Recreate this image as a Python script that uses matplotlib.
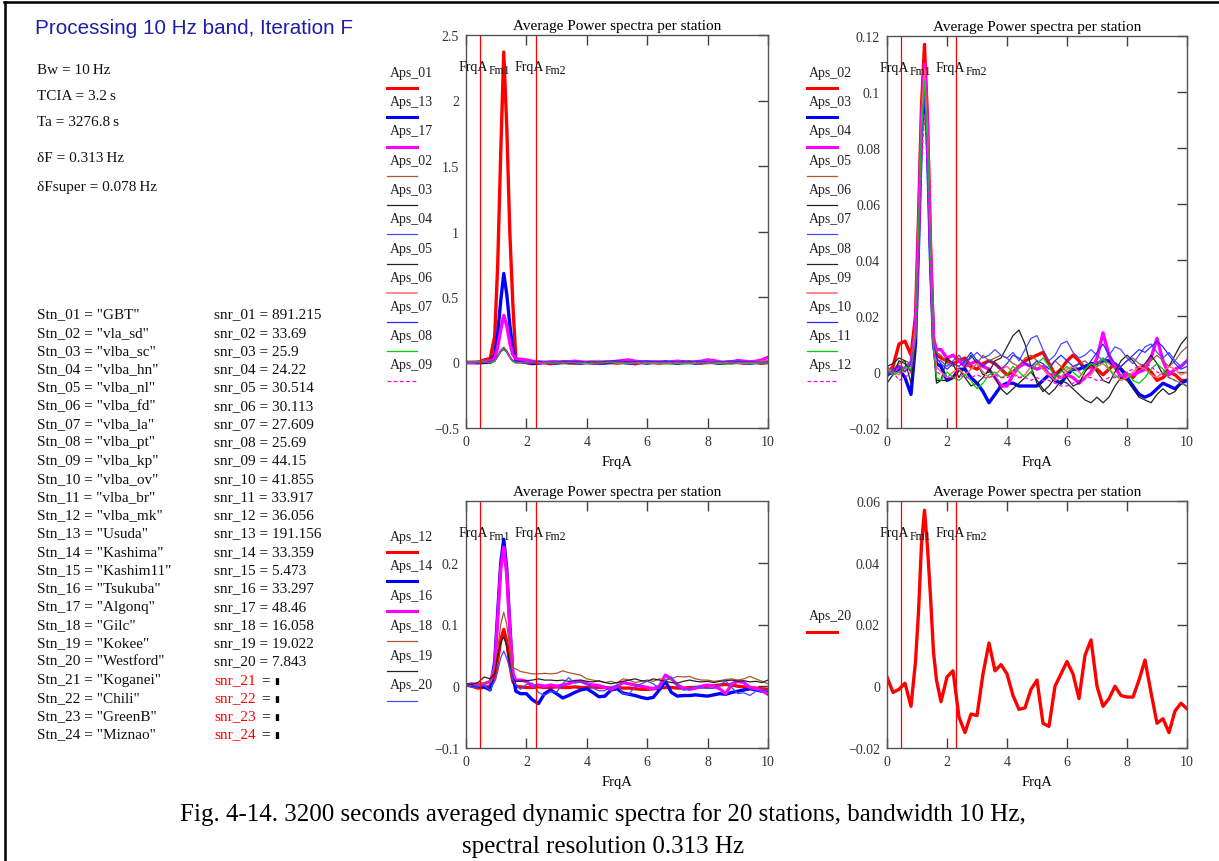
import matplotlib
matplotlib.use("Agg")
import matplotlib.pyplot as plt
from matplotlib.lines import Line2D
from matplotlib.ticker import FixedLocator, FuncFormatter

plt.rcParams['font.family'] = ['Liberation Serif', 'DejaVu Serif']

W, H = 1219, 862

# frequency axis (Hz), denser around the carrier line
freq = [0.0, 0.2, 0.4, 0.6, 0.8, 0.95, 1.05, 1.15, 1.25, 1.35, 1.45, 1.55, 1.65,
        1.8, 2.0, 2.2, 2.4, 2.6, 2.8, 3.0, 3.2, 3.4, 3.6, 3.8, 4.0, 4.2, 4.4,
        4.6, 4.8, 5.0, 5.2, 5.4, 5.6, 5.8, 6.0, 6.2, 6.4, 6.6, 6.8, 7.0, 7.2,
        7.4, 7.6, 7.8, 8.0, 8.2, 8.4, 8.6, 8.8, 9.0, 9.2, 9.4, 9.6, 9.8, 10.0]

# marker frequencies FrqA[Fm1], FrqA[Fm2]
frq_marks = [0.45, 2.31]

# averaged power spectra per station
aps_01 = [0.0, 0.0, 0.0, 0.02, 0.03, 0.2, 0.75, 1.6, 2.37, 1.8, 1.0, 0.45, 0.03,
          0.01, 0.0, -0.01, 0.0, 0.0, -0.01, 0.0, 0.005, 0.0, -0.005, 0.0, 0.0,
          -0.005, 0.0, 0.005, 0.0, -0.005, 0.0, 0.0, -0.01, 0.0, 0.005, 0.0, -0.005,
          0.0, 0.0, -0.005, 0.0, 0.005, 0.0, -0.005, 0.0, 0.0, -0.005, 0.0, 0.005,
          0.0, -0.005, 0.0, 0.0, -0.005, 0.0]
aps_02 = [-0.001, 0.002, 0.010, 0.011, 0.006, 0.02, 0.055, 0.095, 0.117, 0.09, 0.045, 0.012, 0.006,
          0.005, 0.004, 0.003, 0.004, 0.005, 0.002, 0.001, 0.003, 0.004, 0.003,
          0.001, -0.001, 0.0, 0.002, 0.004, 0.005, 0.006, 0.007, 0.003, -0.001,
          0.001, 0.004, 0.006, 0.004, 0.001, 0.002, 0.001, -0.001, 0.001, 0.003,
          0.001, -0.001, -0.002, 0.001, 0.002, 0.0, -0.003, -0.002, 0.0, -0.001,
          -0.003, -0.003]
aps_03 = [-0.001, 0.0, 0.001, -0.002, -0.008, 0.01, 0.045, 0.085, 0.105, 0.08, 0.04, 0.01, 0.003,
          0.002, -0.003, -0.002, 0.001, 0.001, -0.002, -0.004, -0.007, -0.011, -0.008,
          -0.005, -0.004, -0.004, -0.005, -0.005, -0.005, -0.005, -0.003, -0.001, -0.003,
          -0.004, -0.001, 0.001, 0.001, 0.002, 0.003, 0.003, 0.004, 0.004, 0.002,
          0.001, -0.002, -0.005, -0.008, -0.009, -0.008, -0.006, -0.004, -0.005, -0.006,
          -0.004, -0.003]
aps_04 = [0.001, 0.0, 0.002, 0.001, 0.003, 0.015, 0.05, 0.09, 0.11, 0.088, 0.045, 0.012, 0.008,
          0.008, 0.005, 0.006, 0.004, 0.002, 0.003, 0.004, 0.002, 0.001, -0.002,
          -0.005, -0.005, -0.001, 0.002, 0.003, 0.002, 0.001, 0.002, -0.001, -0.001,
          -0.002, -0.001, -0.002, -0.004, -0.002, 0.0, 0.005, 0.014, 0.006, 0.002,
          -0.002, -0.001, -0.001, 0.0, 0.001, 0.005, 0.012, 0.004, -0.001, 0.001,
          0.002, 0.004]
aps_05 = [0.001, 0.001, 0.003, 0.004, 0.003, 0.015, 0.05, 0.088, 0.108, 0.085, 0.042, 0.012, 0.007,
          0.006, 0.003, 0.002, 0.005, 0.004, 0.001, 0.003, 0.006, 0.004, 0.005,
          0.006, 0.005, 0.003, 0.002, 0.005, 0.006, 0.004, 0.001, 0.002, 0.004,
          0.002, 0.0, 0.001, 0.003, 0.004, 0.002, 0.003, 0.005, 0.003, 0.001,
          0.002, 0.004, 0.005, 0.003, 0.002, 0.004, 0.006, 0.004, 0.002, 0.004,
          0.007, 0.009]
aps_06 = [-0.004, -0.001, 0.004, 0.003, 0.0, 0.012, 0.045, 0.085, 0.104, 0.08, 0.04, 0.01, -0.003,
          -0.003, 0.005, 0.003, -0.002, 0.002, 0.006, 0.003, -0.001, 0.0, 0.004,
          0.005, 0.009, 0.013, 0.015, 0.01, 0.002, -0.004, -0.007, -0.005, -0.002,
          0.001, -0.002, -0.005, -0.004, 0.0, 0.003, 0.0, -0.003, -0.004, 0.0,
          0.004, 0.006, 0.004, 0.001, 0.003, 0.006, 0.003, -0.001, 0.002, 0.006,
          0.01, 0.0125]
aps_07 = [0.0, -0.001, 0.0, 0.002, 0.004, 0.012, 0.048, 0.082, 0.1, 0.078, 0.04, 0.01, 0.004,
          0.004, 0.002, 0.004, 0.006, 0.003, 0.005, 0.007, 0.005, 0.006, 0.008,
          0.006, 0.005, 0.007, 0.004, 0.008, 0.012, 0.013, 0.008, 0.004, 0.006,
          0.01, 0.011, 0.007, 0.005, 0.006, 0.008, 0.006, 0.004, 0.006, 0.009,
          0.008, 0.005, 0.003, 0.006, 0.009, 0.01, 0.007, 0.005, 0.007, 0.004,
          0.002, 0.004]
aps_08 = [0.002, 0.003, 0.005, 0.004, -0.004, 0.01, 0.048, 0.086, 0.105, 0.082, 0.04, 0.008, -0.004,
          -0.003, -0.003, -0.002, 0.001, -0.002, -0.005, -0.004, -0.002, 0.001, -0.002,
          -0.006, -0.008, -0.006, -0.004, -0.002, 0.0, -0.003, -0.006, -0.008, -0.006,
          -0.003, -0.004, -0.006, -0.008, -0.01, -0.011, -0.009, -0.011, -0.009, -0.005,
          -0.002, -0.003, -0.006, -0.009, -0.01, -0.011, -0.008, -0.006, -0.008, -0.007,
          -0.004, -0.005]
aps_09 = [0.001, 0.0, -0.001, 0.001, 0.002, 0.014, 0.05, 0.088, 0.108, 0.084, 0.042, 0.01, 0.002,
          0.0, -0.002, 0.0, 0.001, -0.001, 0.001, 0.003, 0.0, -0.002, -0.001,
          0.001, 0.002, 0.0, -0.002, -0.001, 0.002, 0.003, 0.001, -0.001, -0.003,
          -0.002, 0.001, 0.002, 0.0, -0.002, -0.001, 0.002, 0.003, 0.001, -0.001,
          -0.003, -0.002, 0.0, 0.002, 0.001, -0.001, -0.002, 0.0, 0.002, 0.001,
          -0.001, 0.0]
aps_10 = [-0.002, 0.001, 0.002, 0.0, 0.003, 0.012, 0.047, 0.083, 0.102, 0.079, 0.04, 0.01, 0.005,
          0.003, 0.001, 0.003, 0.002, 0.004, 0.007, 0.004, 0.002, 0.004, 0.003,
          0.001, 0.003, 0.006, 0.005, 0.003, 0.002, 0.004, 0.003, 0.001, 0.004,
          0.006, 0.004, 0.002, 0.003, 0.001, 0.004, 0.007, 0.01, 0.006, 0.003,
          0.002, 0.004, 0.006, 0.008, 0.007, 0.009, 0.011, 0.009, 0.006, 0.003,
          0.001, 0.002]
aps_11 = [0.001, -0.001, 0.0, 0.002, 0.001, 0.012, 0.048, 0.085, 0.104, 0.08, 0.04, 0.008, -0.002,
          -0.003, 0.0, -0.002, -0.003, -0.001, -0.003, -0.006, -0.004, -0.001, 0.0,
          -0.002, -0.001, 0.002, 0.0, -0.002, 0.0, 0.003, 0.005, 0.002, -0.002,
          0.0, 0.002, 0.0, -0.002, 0.001, 0.003, 0.002, 0.005, 0.001, -0.002,
          -0.001, 0.0, -0.003, -0.004, -0.002, 0.001, 0.003, 0.001, -0.002, -0.003,
          -0.004, -0.005]
aps_12 = [0.002, 0.0, -0.003, -0.002, 0.0, 0.012, 0.042, 0.075, 0.092, 0.072, 0.035, 0.008, 0.0,
          -0.001, -0.002, -0.002, -0.001, -0.002, -0.002, -0.001, -0.002, -0.002, -0.001,
          -0.002, -0.002, -0.001, -0.002, -0.002, -0.003, -0.002, -0.003, -0.003, -0.004,
          -0.005, -0.005, -0.004, -0.003, -0.002, -0.002, -0.003, -0.003, -0.002, -0.002,
          -0.001, 0.0, 0.001, 0.002, 0.003, 0.002, 0.0, -0.001, -0.002, -0.003,
          -0.004, -0.005]
aps_13 = [0.0, 0.0, -0.002, 0.0, 0.005, 0.06, 0.22, 0.47, 0.68, 0.52, 0.29, 0.1, 0.02,
          0.005, 0.0, -0.005, -0.005, 0.0, 0.0, -0.005, 0.0, 0.005, 0.0,
          -0.005, 0.0, 0.0, -0.005, -0.005, 0.0, 0.005, 0.0, -0.005, 0.0,
          0.0, -0.005, 0.0, 0.0, 0.005, 0.0, -0.005, 0.0, 0.0, -0.005,
          0.0, 0.005, 0.0, -0.005, 0.0, 0.0, 0.005, 0.0, -0.005, 0.0,
          0.0, 0.005]
aps_14 = [0.003, 0.001, 0.0, -0.001, -0.006, 0.04, 0.12, 0.2, 0.238, 0.19, 0.1, 0.02, -0.008,
          -0.012, -0.012, -0.022, -0.028, -0.012, -0.006, -0.012, -0.019, -0.015, -0.01,
          -0.006, -0.004, -0.01, -0.017, -0.016, -0.006, -0.004, -0.011, -0.013, -0.015,
          -0.018, -0.02, -0.018, -0.006, 0.008, -0.01, -0.016, -0.015, -0.015, -0.014,
          -0.015, -0.016, -0.014, -0.012, -0.013, -0.01, -0.008, -0.006, -0.004, -0.006,
          -0.008, -0.009]
aps_16 = [0.002, 0.004, 0.003, 0.004, 0.008, 0.03, 0.11, 0.19, 0.225, 0.18, 0.095, 0.02, 0.01,
          0.01, 0.008, 0.0, 0.002, 0.0, 0.002, 0.0, 0.002, 0.004, 0.008,
          0.008, 0.004, 0.002, 0.001, -0.002, -0.005, 0.0, 0.006, 0.004, 0.002,
          0.0, -0.002, -0.004, 0.0, 0.018, 0.012, 0.002, -0.003, -0.005, -0.003,
          0.0, 0.002, 0.0, -0.004, -0.012, 0.004, 0.008, 0.006, -0.002, -0.004,
          -0.007, -0.013]
aps_17 = [0.0, 0.0, 0.005, 0.01, 0.01, 0.03, 0.12, 0.25, 0.36, 0.28, 0.15, 0.06, 0.03,
          0.025, 0.02, 0.01, 0.005, 0.0, 0.005, 0.005, 0.0, 0.005, 0.01,
          0.005, 0.0, 0.005, 0.005, 0.0, 0.005, 0.01, 0.015, 0.02, 0.01,
          0.005, 0.0, 0.005, 0.005, 0.0, 0.005, 0.01, 0.005, 0.0, 0.005,
          0.01, 0.02, 0.015, 0.005, 0.0, 0.005, 0.015, 0.01, 0.005, 0.01,
          0.02, 0.04]
aps_18 = [0.002, 0.002, 0.004, 0.005, 0.008, 0.025, 0.06, 0.1, 0.12, 0.1, 0.06, 0.03, 0.028,
          0.024, 0.022, 0.02, 0.02, 0.021, 0.02, 0.021, 0.025, 0.022, 0.02,
          0.018, 0.012, 0.01, 0.008, 0.006, 0.008, 0.005, 0.012, 0.01, 0.006,
          0.008, 0.01, 0.008, 0.012, 0.01, 0.012, 0.016, 0.015, 0.016, 0.012,
          0.01, 0.01, 0.008, 0.009, 0.011, 0.012, 0.01, 0.012, 0.016, 0.012,
          0.008, 0.004]
aps_19 = [0.004, 0.003, 0.006, 0.015, 0.012, 0.02, 0.05, 0.07, 0.08, 0.065, 0.035, 0.012, 0.008,
          0.008, 0.009, 0.01, 0.012, 0.01, 0.01, 0.009, 0.01, 0.008, 0.009,
          0.01, 0.008, 0.007, 0.009, 0.006, 0.004, 0.006, 0.008, 0.01, 0.012,
          0.009, 0.008, 0.012, 0.01, 0.008, 0.006, 0.005, 0.008, 0.01, 0.008,
          0.007, 0.008, 0.006, 0.008, 0.009, 0.01, 0.008, 0.009, 0.007, 0.008,
          0.006, 0.01]
aps_20 = [0.003, -0.002, -0.001, 0.001, -0.0065, 0.008, 0.024, 0.046, 0.057, 0.045, 0.029, 0.011, 0.002,
          -0.005, 0.003, 0.005, -0.010, -0.015, -0.009, -0.0095, 0.004, 0.014, 0.005,
          0.007, 0.004, -0.003, -0.0075, -0.007, -0.001, 0.002, -0.012, -0.013, 0.0,
          0.004, 0.008, 0.004, -0.004, 0.01, 0.015, 0.0, -0.0065, -0.004, 0.0,
          -0.003, -0.0035, -0.0035, 0.002, 0.0085, -0.002, -0.012, -0.0105, -0.015, -0.008,
          -0.0055, -0.0073]

spectra = {'01': aps_01, '02': aps_02, '03': aps_03, '04': aps_04, '05': aps_05,
           '06': aps_06, '07': aps_07, '08': aps_08, '09': aps_09, '10': aps_10,
           '11': aps_11, '12': aps_12, '13': aps_13, '14': aps_14, '16': aps_16,
           '17': aps_17, '18': aps_18, '19': aps_19, '20': aps_20}

# which stations go into each plot (trace order)
panel_a = ['01', '13', '17', '02', '03', '04', '05', '06', '07', '08', '09']
panel_b = ['02', '03', '04', '05', '06', '07', '08', '09', '10', '11', '12']
panel_c = ['12', '14', '16', '18', '19', '20']
panel_d = ['20']

stations = ['GBT', 'vla_sd', 'vlba_sc', 'vlba_hn', 'vlba_nl', 'vlba_fd', 'vlba_la',
            'vlba_pt', 'vlba_kp', 'vlba_ov', 'vlba_br', 'vlba_mk', 'Usuda', 'Kashima',
            'Kashim11', 'Tsukuba', 'Algonq', 'Gilc', 'Kokee', 'Westford', 'Koganei',
            'Chili', 'GreenB', 'Miznao']
snr = [891.215, 33.69, 25.9, 24.22, 30.514, 30.113, 27.609, 25.69, 44.15, 41.855,
       33.917, 36.056, 191.156, 33.359, 5.473, 33.297, 48.46, 16.058, 19.022, 7.843,
       None, None, None, None]

params = ['Bw = 10\u2009Hz', 'TCIA = 3.2\u2009s', 'Ta = 3276.8\u2009s',
          '\u03b4F = 0.313\u2009Hz', '\u03b4Fsuper = 0.078\u2009Hz']

# Mathcad-like trace styles: colour, width, dash
trace_styles = [
    ('#ff0000', 2.4, '-'),
    ('#0000ff', 2.4, '-'),
    ('#ff00ff', 2.4, '-'),
    ('#a8582a', 0.9, '-'),
    ('#222222', 0.9, '-'),
    ('#4848ff', 0.9, '-'),
    ('#222222', 0.9, '-'),
    ('#ff6a6a', 1.1, '-'),
    ('#2a2aff', 0.9, '-'),
    ('#00d000', 0.9, '-'),
    ('#ff00ff', 0.9, (0, (3, 2))),
]

fig = plt.figure(figsize=(W / 100, H / 100), dpi=100)
fig.patch.set_facecolor('white')


def fx(x):
    return x / W


def fy(y):
    return 1 - y / H


def minus_fmt(v, pos):
    return ('%g' % v).replace('-', '\u2212')


def make_axes(left, top, right, bottom, ylim, yticks, series):
    ax = fig.add_axes([fx(left), fy(bottom), fx(right - left), (bottom - top) / H])
    for i, key in enumerate(series):
        color, lw, ls = trace_styles[i]
        ax.plot(freq, spectra[key], color=color, lw=lw, ls=ls)
    for k, xm in enumerate(frq_marks):
        ax.axvline(xm, color='#ff0000', lw=0.9)
        # marker name with its subscript, Mathcad style
        ax.annotate('FrqA', xy=(xm, 1), xycoords=('data', 'axes fraction'),
                    xytext=(-21, -35), textcoords='offset pixels', ha='left',
                    va='baseline', fontsize=10, color='#111111')
        ax.annotate('Fm%d' % (k + 1), xy=(xm, 1), xycoords=('data', 'axes fraction'),
                    xytext=(9, -38), textcoords='offset pixels', ha='left',
                    va='baseline', fontsize=8.5, color='#111111')
    ax.set_xlim(0, 10)
    ax.set_ylim(*ylim)
    ax.xaxis.set_major_locator(FixedLocator([0, 2, 4, 6, 8, 10]))
    ax.yaxis.set_major_locator(FixedLocator(yticks))
    ax.xaxis.set_major_formatter(FuncFormatter(minus_fmt))
    ax.yaxis.set_major_formatter(FuncFormatter(minus_fmt))
    ax.tick_params(direction='in', length=7, width=1, color='#404040',
                   top=True, right=True, left=False, labelsize=10,
                   labelcolor='#333333')
    ax.tick_params(axis='x', pad=5)
    ax.tick_params(axis='y', pad=5)
    for sp in ax.spines.values():
        sp.set_color('#555555')
        sp.set_linewidth(1)
    ax.set_title('Average Power spectra per station', fontsize=11, pad=4)
    ax.set_xlabel('FrqA', fontsize=10.5, labelpad=5)
    return ax


def draw_legend(x_text, x0, x1, y_first, step, series):
    for i, key in enumerate(series):
        color, lw, ls = trace_styles[i]
        yc = y_first + i * step
        fig.text(fx(x_text), fy(yc), 'Aps_' + key, fontsize=10, ha='left',
                 va='center', color='#222222')
        fig.add_artist(Line2D([fx(x0), fx(x1)], [fy(yc + 15.5)] * 2, color=color,
                              lw=min(lw, 2.2), ls=ls, transform=fig.transFigure))


make_axes(466, 36, 768, 429, (-0.5, 2.5), [-0.5, 0, 0.5, 1, 1.5, 2, 2.5], panel_a)
make_axes(887, 37, 1187, 429, (-0.02, 0.12),
          [-0.02, 0, 0.02, 0.04, 0.06, 0.08, 0.1, 0.12], panel_b)
make_axes(466, 502, 768, 749, (-0.1, 0.3), [-0.1, 0, 0.1, 0.2], panel_c)
make_axes(887, 502, 1187, 749, (-0.02, 0.06), [-0.02, 0, 0.02, 0.04, 0.06], panel_d)

draw_legend(390, 387, 417, 73.5, 29.25, panel_a)
draw_legend(809, 807, 837, 73.5, 29.25, panel_b)
draw_legend(390, 387, 417, 537, 29.8, panel_c)
draw_legend(809, 807, 837, 617, 29.8, panel_d)

# worksheet header and constants
fig.text(fx(35), fy(28), 'Processing 10 Hz band, Iteration F', family='Liberation Sans',
         fontsize=14.9, color='#1e1ea6', va='center', ha='left')
for y, s in zip([70, 96, 122, 159, 187], params):
    fig.text(fx(37), fy(y), s, fontsize=11, va='center', ha='left', color='#111111')

# station names and SNR values
for i, (name, val) in enumerate(zip(stations, snr)):
    y = 315 + i * 18.26
    fig.text(fx(37), fy(y), 'Stn_%02d = "%s"' % (i + 1, name), fontsize=11,
             va='center', ha='left', color='#111111')
    if val is not None:
        fig.text(fx(214), fy(y), 'snr_%02d = %s' % (i + 1, val), fontsize=11,
                 va='center', ha='left', color='#111111')
    else:
        fig.text(fx(214), fy(y), 'snr_%02d' % (i + 1), fontsize=11,
                 va='center', ha='left', color='#ff0000')
        fig.text(fx(261), fy(y), '=', fontsize=11, va='center', ha='left',
                 color='#111111')
        fig.text(fx(274), fy(y + 1), '\u25ae', family=['DejaVu Sans'], fontsize=6.5,
                 va='center', ha='left', color='#000000')

# caption
fig.text(fx(603), fy(815), 'Fig. 4-14. 3200 seconds averaged dynamic spectra for 20 '
         'stations, bandwidth 10 Hz,', fontsize=18, ha='center', va='center')
fig.text(fx(603), fy(847), 'spectral resolution 0.313 Hz', fontsize=18,
         ha='center', va='center')

# page frame
fig.add_artist(Line2D([fx(4), 1.0], [fy(3)] * 2, color='black', lw=1.8,
                      transform=fig.transFigure))
fig.add_artist(Line2D([fx(5)] * 2, [fy(3), 0.0], color='black', lw=1.8,
                      transform=fig.transFigure))

fig.savefig('out.png', dpi=100)
